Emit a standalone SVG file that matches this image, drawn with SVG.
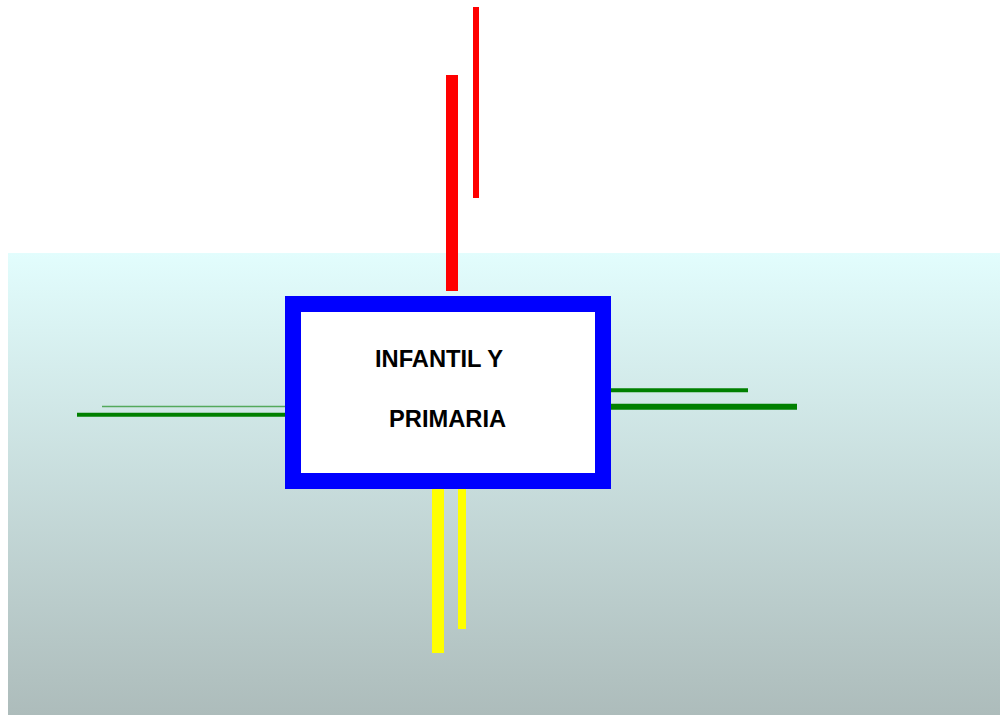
<svg xmlns="http://www.w3.org/2000/svg" width="1000" height="715" viewBox="0 0 1000 715">
  <defs>
    <linearGradient id="bg" x1="0" y1="0" x2="0" y2="1">
      <stop offset="0" stop-color="#e2fdfd"/>
      <stop offset="1" stop-color="#adbcbb"/>
    </linearGradient>
    <style>
      .lbl { font-family: "Liberation Sans", Arial, sans-serif; font-weight: bold; font-size: 23.7px; fill: #000; }
      .red { fill: #ff0000; }
      .yel { fill: #ffff00; }
      .grn { stroke: #008000; fill: none; }
    </style>
  </defs>
  <rect x="0" y="0" width="1000" height="715" fill="#ffffff"/>
  <rect x="8" y="253" width="992" height="462" fill="url(#bg)"/>
  <g id="connectors">
    <rect class="red" x="446" y="75" width="12" height="216"/>
    <rect class="red" x="473" y="7" width="6" height="191"/>
    <rect class="yel" x="432" y="489" width="12" height="164"/>
    <rect class="yel" x="458" y="489" width="8" height="140"/>
    <line class="grn" x1="611" y1="390.3" x2="748" y2="390.3" stroke-width="4"/>
    <line class="grn" x1="611" y1="406.7" x2="797" y2="406.7" stroke-width="6"/>
    <line class="grn" x1="102" y1="406.5" x2="285" y2="406.5" stroke-width="1.5" stroke-opacity="0.6"/>
    <line class="grn" x1="77" y1="414.7" x2="285" y2="414.7" stroke-width="4"/>
  </g>
  <g id="node-main">
    <rect x="293" y="304" width="310" height="177" fill="#ffffff" stroke="#0000ff" stroke-width="16"/>
    <text class="lbl" x="375" y="367.3">INFANTIL Y</text>
    <text class="lbl" x="389" y="426.7">PRIMARIA</text>
  </g>
</svg>
